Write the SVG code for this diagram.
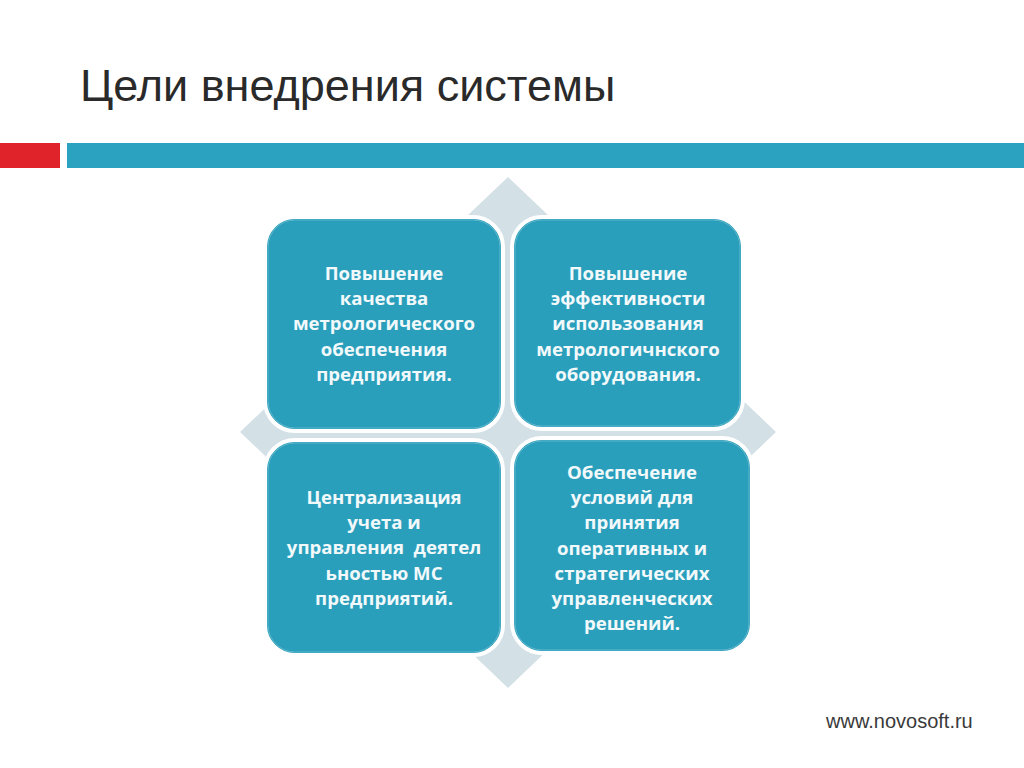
<svg xmlns="http://www.w3.org/2000/svg" width="1024" height="768" viewBox="0 0 1024 768">
<style>
.box{fill:#2a9fbb;stroke:#ffffff;stroke-width:4}
.inner{fill:none;stroke:#5fb6cc;stroke-width:1}
.t{font-family:"Open Sans","Noto Sans",sans-serif;font-weight:bold;font-size:18.6px;fill:#f2f9fb;text-anchor:middle}
</style>
<rect width="1024" height="768" fill="#ffffff"/>
<text x="80" y="101" font-family="Liberation Sans, Arial, sans-serif" font-size="45" fill="#2a2a2a">Цели внедрения системы</text>
<rect x="0" y="143" width="60" height="25" fill="#e0232b"/>
<rect x="67" y="143" width="957" height="25" fill="#2ba2bf"/>
<polygon points="508,177 776,432 508,688 240,432" fill="#d3e0e6"/>
<g id="node1">
<rect class="box" x="265" y="217" width="238" height="214" rx="30"/>
<rect class="inner" x="268" y="220" width="232" height="208" rx="27"/>
<text class="t"><tspan x="384" y="280">Повышение</tspan><tspan x="384" y="305">качества</tspan><tspan x="384" y="330">метрологического</tspan><tspan x="384" y="356">обеспечения</tspan><tspan x="384" y="381">предприятия.</tspan></text>
</g>
<g id="node2">
<rect class="box" x="512" y="217" width="231" height="212" rx="30"/>
<rect class="inner" x="515" y="220" width="225" height="206" rx="27"/>
<text class="t"><tspan x="628" y="280">Повышение</tspan><tspan x="628" y="305">эффективности</tspan><tspan x="628" y="330">использования</tspan><tspan x="628" y="356">метрологичнского</tspan><tspan x="628" y="381">оборудования.</tspan></text>
</g>
<g id="node3">
<rect class="box" x="265" y="440" width="238" height="215" rx="30"/>
<rect class="inner" x="268" y="443" width="232" height="209" rx="27"/>
<text class="t" xml:space="preserve"><tspan x="384" y="504">Централизация</tspan><tspan x="384" y="529">учета и</tspan><tspan x="384" y="554">управления  деятел</tspan><tspan x="384" y="580">ьностью МС</tspan><tspan x="384" y="605">предприятий.</tspan></text>
</g>
<g id="node4">
<rect class="box" x="512" y="438" width="240" height="215" rx="30"/>
<rect class="inner" x="515" y="441" width="234" height="209" rx="27"/>
<text class="t"><tspan x="632" y="479">Обеспечение</tspan><tspan x="632" y="504">условий для</tspan><tspan x="632" y="529">принятия</tspan><tspan x="632" y="555">оперативных и</tspan><tspan x="632" y="580">стратегических</tspan><tspan x="632" y="605">управленческих</tspan><tspan x="632" y="630">решений.</tspan></text>
</g>
<g id="connectors"></g>
<text x="826" y="728" font-family="Liberation Sans, Arial, sans-serif" font-size="20" fill="#3a3a3a">www.novosoft.ru</text>
</svg>
